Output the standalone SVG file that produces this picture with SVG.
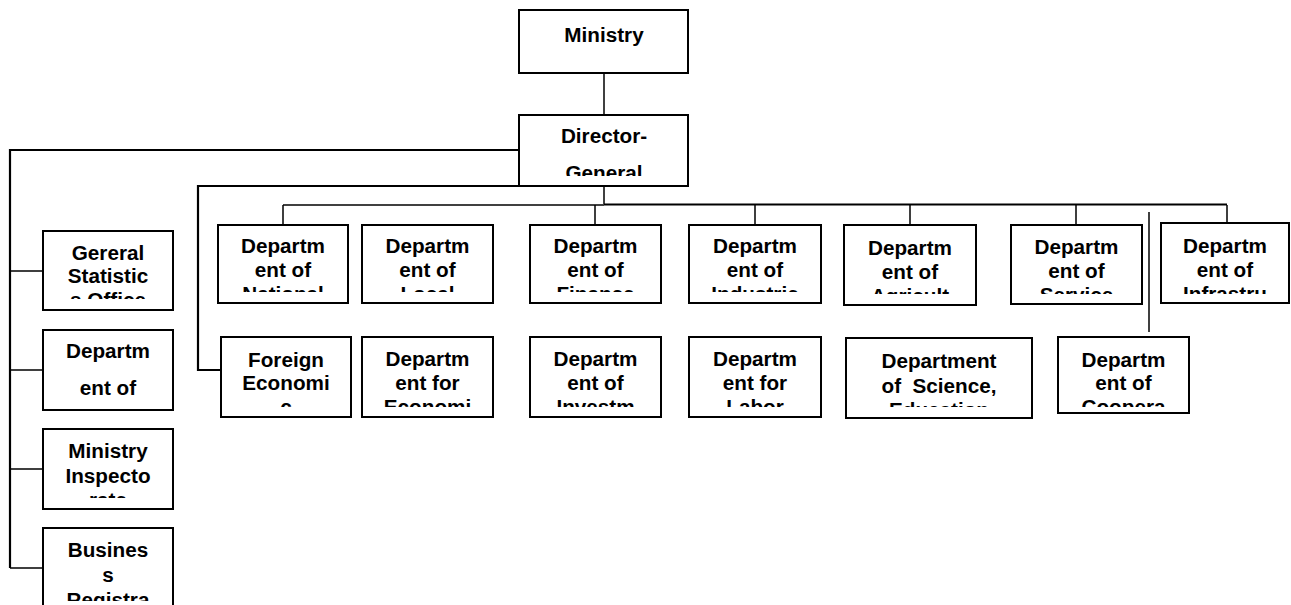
<svg xmlns="http://www.w3.org/2000/svg" width="1291" height="605" viewBox="0 0 1291 605">
<style>
.box{fill:#fff;stroke:#000;stroke-width:2}
.t{font-family:"Liberation Sans",Arial,sans-serif;font-weight:bold;font-size:20.7px;fill:#000;text-anchor:middle;white-space:pre}
.c{fill:none;stroke:#000;stroke-width:1.5}
.ct{fill:none;stroke:#000;stroke-width:2.2}
</style>
<defs>
<clipPath id="k-dg"><rect x="519" y="115" width="169" height="61"/></clipPath>
<clipPath id="k-gso"><rect x="43" y="231" width="130" height="68"/></clipPath>
<clipPath id="k-ins"><rect x="43" y="429" width="130" height="69"/></clipPath>
<clipPath id="k-bus"><rect x="43" y="528" width="130" height="73"/></clipPath>
<clipPath id="k-r1a"><rect x="218" y="225" width="840" height="67"/></clipPath>
<clipPath id="k-r1b"><rect x="844" y="225" width="447" height="69"/></clipPath>
<clipPath id="k-r2"><rect x="218" y="337" width="980" height="70"/></clipPath>
</defs>
<g id="connectors">
<path class="c" d="M604,73 V115"/>
<path class="ct" d="M519,150 H10 V568"/>
<path class="c" d="M10,271 H43 M10,370 H43 M10,469 H43 M10,568 H43"/>
<path class="ct" d="M519,186 H198 V370 H221"/>
<path class="c" d="M604,187 V204"/>
<path class="c" d="M283,205 H604"/>
<path class="ct" d="M604,204.5 H1227"/>
<path class="c" d="M283,205 V225 M595,205 V225 M755,205 V225 M910,205 V225 M1076,205 V225 M1227,205 V223"/>
<path class="c" d="M1149,212 V332"/>
</g>
<g id="ministry"><rect class="box" x="519" y="10" width="169" height="63"/><text class="t" x="604" y="42">Ministry</text></g>
<g id="director-general"><rect class="box" x="519" y="115" width="169" height="71"/><g clip-path="url(#k-dg)"><text class="t" x="604" y="143">Director-</text><text class="t" x="604" y="180">General</text></g></g>
<g id="general-statistics"><rect class="box" x="43" y="231" width="130" height="79"/><g clip-path="url(#k-gso)"><text class="t" x="108" y="260">Gereral</text><text class="t" x="108" y="283">Statistic</text><text class="t" x="108" y="307">s Office</text></g></g>
<g id="dept-left"><rect class="box" x="43" y="330" width="130" height="80"/><text class="t" x="108" y="358">Departm</text><text class="t" x="108" y="395">ent of</text></g>
<g id="inspectorate"><rect class="box" x="43" y="429" width="130" height="80"/><g clip-path="url(#k-ins)"><text class="t" x="108" y="458">Ministry</text><text class="t" x="108" y="483">Inspecto</text><text class="t" x="108" y="507">rate</text></g></g>
<g id="business"><rect class="box" x="43" y="528" width="130" height="92"/><g clip-path="url(#k-bus)"><text class="t" x="108" y="557">Busines</text><text class="t" x="108" y="582">s</text><text class="t" x="108" y="607">Registra</text></g></g>
<g id="national"><rect class="box" x="218" y="225" width="130" height="78"/><g clip-path="url(#k-r1a)"><text class="t" x="283" y="253">Departm</text><text class="t" x="283" y="277">ent of</text><text class="t" x="283" y="301">National</text></g></g>
<g id="local"><rect class="box" x="362" y="225" width="131" height="78"/><g clip-path="url(#k-r1a)"><text class="t" x="427.5" y="253">Departm</text><text class="t" x="427.5" y="277">ent of</text><text class="t" x="427.5" y="301">Local</text></g></g>
<g id="finance"><rect class="box" x="530" y="225" width="131" height="78"/><g clip-path="url(#k-r1a)"><text class="t" x="595.5" y="253">Departm</text><text class="t" x="595.5" y="277">ent of</text><text class="t" x="595.5" y="301">Finance</text></g></g>
<g id="industrie"><rect class="box" x="689" y="225" width="132" height="78"/><g clip-path="url(#k-r1a)"><text class="t" x="755" y="253">Departm</text><text class="t" x="755" y="277">ent of</text><text class="t" x="755" y="301">Industrie</text></g></g>
<g id="agriculture"><rect class="box" x="844" y="225" width="132" height="80"/><g clip-path="url(#k-r1b)"><text class="t" x="910" y="255">Departm</text><text class="t" x="910" y="279">ent of</text><text class="t" x="910" y="303">Agricult</text></g></g>
<g id="service"><rect class="box" x="1011" y="225" width="131" height="79"/><g clip-path="url(#k-r1b)"><text class="t" x="1076.5" y="254">Departm</text><text class="t" x="1076.5" y="278">ent of</text><text class="t" x="1076.5" y="302">Service</text></g></g>
<g id="infrastructure"><rect class="box" x="1161" y="223" width="128" height="80"/><g clip-path="url(#k-r1b)"><text class="t" x="1225" y="253">Departm</text><text class="t" x="1225" y="277">ent of</text><text class="t" x="1225" y="301">Infrastru</text></g></g>
<g id="foreign-economic"><rect class="box" x="221" y="337" width="130" height="80"/><g clip-path="url(#k-r2)"><text class="t" x="286" y="367">Foreign</text><text class="t" x="286" y="390">Economi</text><text class="t" x="286" y="414">c</text></g></g>
<g id="economic"><rect class="box" x="362" y="337" width="131" height="80"/><g clip-path="url(#k-r2)"><text class="t" x="427.5" y="366">Departm</text><text class="t" x="427.5" y="390">ent for</text><text class="t" x="427.5" y="414">Economi</text></g></g>
<g id="investment"><rect class="box" x="530" y="337" width="131" height="80"/><g clip-path="url(#k-r2)"><text class="t" x="595.5" y="366">Departm</text><text class="t" x="595.5" y="390">ent of</text><text class="t" x="595.5" y="414">Investm</text></g></g>
<g id="labor"><rect class="box" x="689" y="337" width="132" height="80"/><g clip-path="url(#k-r2)"><text class="t" x="755" y="366">Departm</text><text class="t" x="755" y="390">ent for</text><text class="t" x="755" y="414">Labor</text></g></g>
<g id="science"><rect class="box" x="846" y="338" width="186" height="80"/><g clip-path="url(#k-r2)"><text class="t" x="939" y="368">Department</text><text class="t" x="939" y="393">of  Science,</text><text class="t" x="939" y="417">Education</text></g></g>
<g id="cooperation"><rect class="box" x="1058" y="337" width="131" height="76"/><g clip-path="url(#k-r2)"><text class="t" x="1123.5" y="367">Departm</text><text class="t" x="1123.5" y="390">ent of</text><text class="t" x="1123.5" y="414">Coopera</text></g></g>
</svg>
